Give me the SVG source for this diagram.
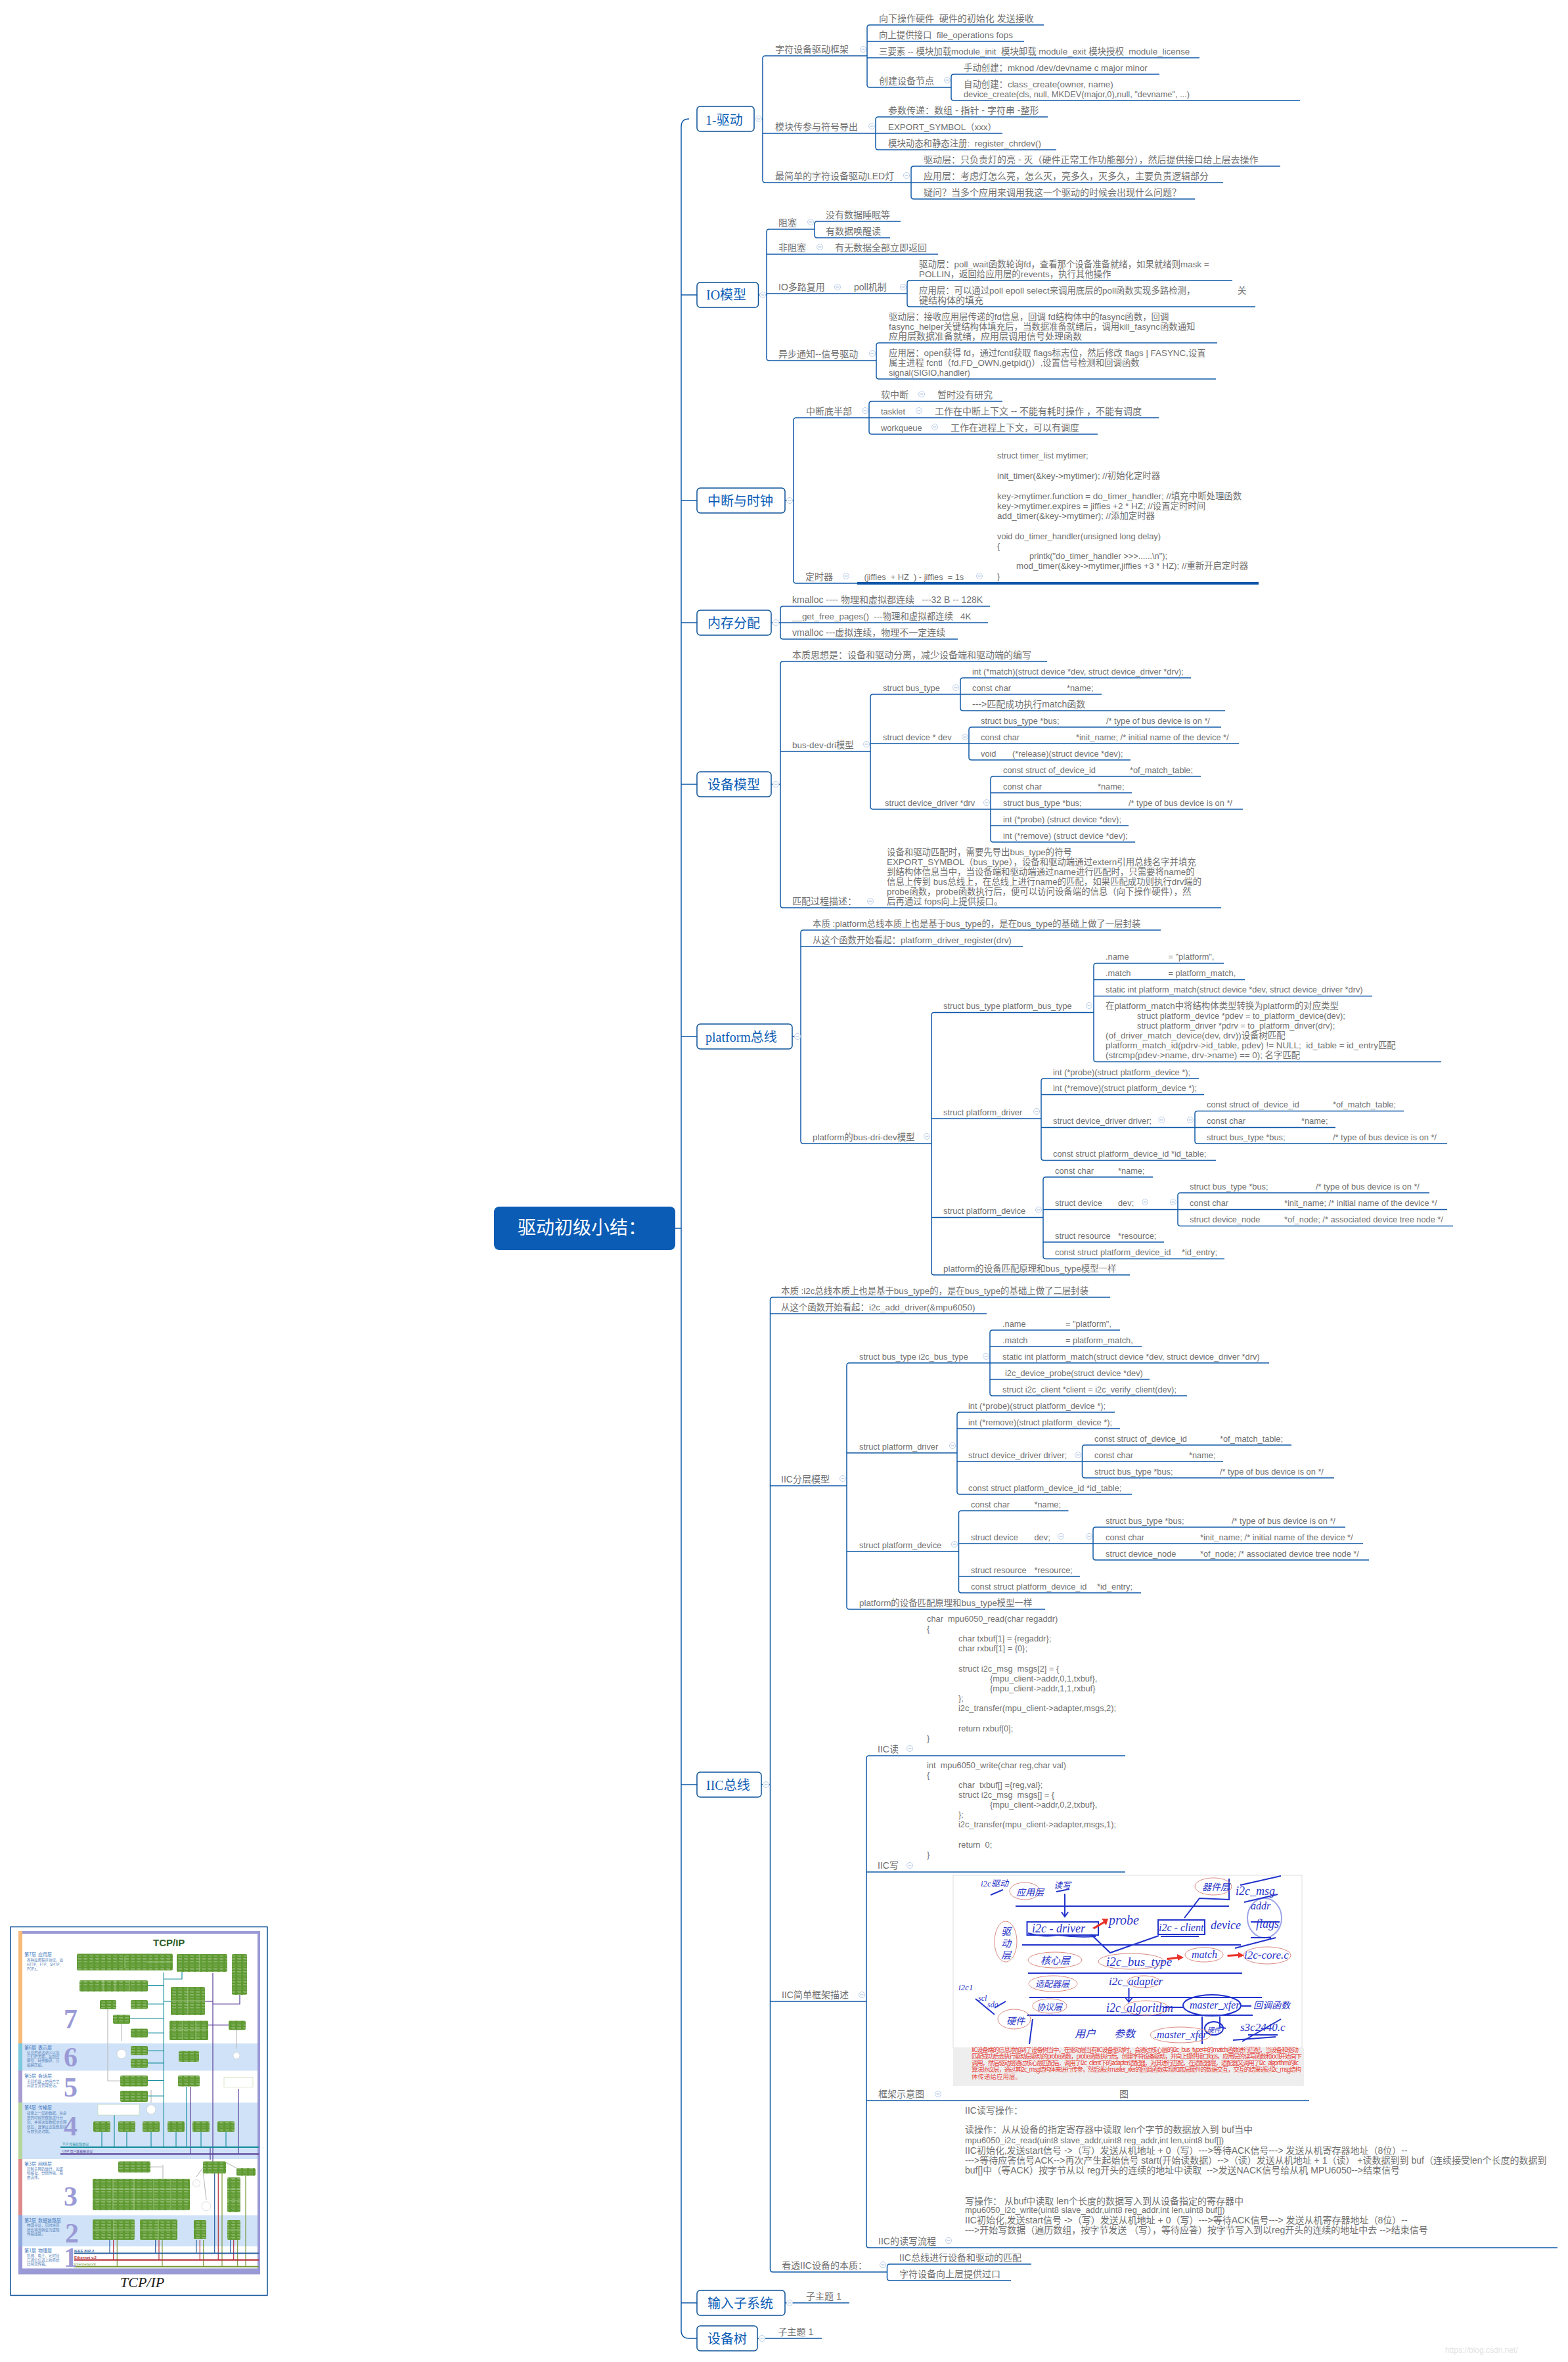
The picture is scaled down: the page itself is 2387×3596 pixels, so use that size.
<svg xmlns="http://www.w3.org/2000/svg" width="2387" height="3596" viewBox="0 0 2387 3596">
<style>
text{white-space:pre}
.t,.e,.m{font:14px "Liberation Sans","Noto Sans CJK SC",sans-serif;fill:#707070}
.e{font-size:12.8px}
.m{font-size:13.4px}
.b{font:20px "Liberation Serif","Noto Sans CJK SC",serif;fill:#0b5cb5}
.box{fill:#fff;stroke:#0b5299;stroke-width:1.5}
.l{fill:none;stroke:#0f5aa8;stroke-width:1.5}
.c circle{fill:#fff;stroke:#b9cde8;stroke-width:1}
.c path{stroke:#9db6da;stroke-width:1;fill:none}
.hw{font:italic 18px "Liberation Serif","Noto Sans CJK SC",serif;fill:#2a35c8}
.pen{fill:none;stroke:#2233cc;stroke-width:2}
.oval{fill:none;stroke:#d98a80;stroke-width:1}
.red{font:9.5px "Noto Sans CJK SC","Liberation Sans",sans-serif;fill:#e8443c}
.lay{font:7px "Noto Sans CJK SC",sans-serif;fill:#4a7cc0}
.sm{font:5.5px "Noto Sans CJK SC",sans-serif;fill:#5a86c0}
.num{font:bold 42px "Liberation Serif",serif;fill:#9a9ad6}
.thin{fill:none;stroke-width:1.2}
</style>
<defs>
<g id="m" class="c"><circle r="4.5"/><path d="M-2.5 0H2.5"/></g>
<pattern id="gt" width="9" height="5" patternUnits="userSpaceOnUse"><rect width="9" height="5" fill="#5f9a32"/><rect x="1" y="1" width="6" height="1.2" fill="#fff" fill-opacity=".28"/><rect x="2" y="3" width="5" height="1" fill="#fff" fill-opacity=".2"/></pattern>
</defs>
<rect width="2387" height="3596" fill="#fff"/>

<g id="connectors">
<path class="l" d="M1028 1870H1037M1049 181Q1037 181 1037 193V3548Q1037 3560 1049 3560H1061M1037 449H1061M1037 762H1061M1037 948H1061M1037 1194H1061M1037 1578H1061M1037 2717H1061M1037 3506H1061"/>
<path class="l" d="M1155 181H1161M1165 85Q1161 85 1161 89V274Q1161 278 1165 278H1387M1165 85H1320M1161 203H1333M1324 38Q1320 38 1320 42V129Q1320 133 1324 133H1448M1324 38H1589M1320 63H1559M1320 88H1826M1452 113Q1448 113 1448 117V149Q1448 153 1452 153H1979M1452 113H1765M1337 178Q1333 178 1333 182V224Q1333 228 1337 228H1608M1337 178H1595M1333 203H1526M1391 253Q1387 253 1387 257V299Q1387 303 1391 303H1819M1391 253H1949M1387 278H1862"/>
<path class="l" d="M1155 449H1167M1171 349Q1167 349 1167 353V545Q1167 549 1171 549H1334M1171 349H1240M1167 387H1428M1167 447H1381M1244 337Q1240 337 1240 341V358Q1240 362 1244 362H1355M1244 337H1371M1385 427Q1381 427 1381 431V463Q1381 467 1385 467H1911M1385 427H1876M1338 522Q1334 522 1334 526V573Q1334 577 1338 577H1851M1338 522H1853"/>
<path class="l" d="M1195 762H1208M1212 636Q1208 636 1208 640V884Q1208 888 1212 888H1305M1212 636H1323M1327 611Q1323 611 1323 615V657Q1323 661 1327 661H1671M1327 611H1526M1323 636H1764"/>
<path d="M1305 888H1916" fill="none" stroke="#0b55a8" stroke-width="4"/>
<path class="l" d="M1174 948H1188M1192 923Q1188 923 1188 927V969Q1188 973 1192 973H1458M1192 923H1507M1188 948H1504"/>
<path class="l" d="M1174 1194H1188M1192 1007Q1188 1007 1188 1011V1378Q1188 1382 1192 1382H1859M1192 1007H1594M1188 1144H1325M1329 1057Q1325 1057 1325 1061V1228Q1325 1232 1329 1232H1508M1329 1057H1462M1325 1132H1475M1466 1032Q1462 1032 1462 1036V1078Q1462 1082 1466 1082H1865M1466 1032H1813M1462 1057H1677M1479 1107Q1475 1107 1475 1111V1153Q1475 1157 1479 1157H1721M1479 1107H1859M1475 1132H1886M1512 1182Q1508 1182 1508 1186V1278Q1508 1282 1512 1282H1728M1512 1182H1828M1508 1207H1723M1508 1232H1892M1508 1257H1718"/>
<path class="l" d="M1206 1578H1219M1223 1416Q1219 1416 1219 1420V1737Q1219 1741 1223 1741H1418M1223 1416H1767M1219 1441H1557M1422 1541.5Q1418 1541.5 1418 1545.5V1937Q1418 1941 1422 1941H1720M1422 1541.5H1665M1418 1703H1585M1418 1853.5H1588M1669 1466.5Q1665 1466.5 1665 1470.5V1612.5Q1665 1616.5 1669 1616.5H2194M1669 1466.5H1863M1665 1491.5H1895M1665 1516.5H2089M1589 1642Q1585 1642 1585 1646V1762.5Q1585 1766.5 1589 1766.5H1851M1589 1642H1825M1585 1666.5H1833M1585 1716.5H1819M1823 1691.5Q1819 1691.5 1819 1695.5V1737Q1819 1741 1823 1741H2203M1823 1691.5H2137M1819 1716.5H2033M1592 1792Q1588 1792 1588 1796V1912.5Q1588 1916.5 1592 1916.5H1864M1592 1792H1755M1588 1841.5H1793M1588 1891H1772M1797 1816Q1793 1816 1793 1820V1862.5Q1793 1866.5 1797 1866.5H2212M1797 1816H2176M1793 1841.5H2203"/>
<path class="l" d="M1159 2717H1172.5M1176.5 1975Q1172.5 1975 1172.5 1979V3455Q1172.5 3459 1176.5 3459H1350.5M1176.5 1975H1690M1172.5 2000H1502M1172.5 2262H1289M1172.5 3047H1319M1293 2075Q1289 2075 1289 2079V2446Q1289 2450 1293 2450H1591M1293 2075H1507M1289 2212H1457M1289 2362H1459.5M1511 2025Q1507 2025 1507 2029V2121Q1507 2125 1511 2125H1807M1511 2025H1705M1507 2050H1738M1507 2075H1932M1507 2100H1750M1461 2150Q1457 2150 1457 2154V2271Q1457 2275 1461 2275H1723M1461 2150H1697M1457 2175H1705M1457 2225H1647.5M1651.5 2200Q1647.5 2200 1647.5 2204V2246Q1647.5 2250 1651.5 2250H2031M1651.5 2200H1966M1647.5 2225H1862M1463.5 2300Q1459.5 2300 1459.5 2304V2421Q1459.5 2425 1463.5 2425H1737M1463.5 2300H1626.5M1459.5 2350H1664M1459.5 2400H1644M1668 2325Q1664 2325 1664 2329V2371Q1664 2375 1668 2375H2084M1668 2325H2048M1664 2350H2075M1323 2673Q1319 2673 1319 2677V3418Q1319 3422 1323 3422H2371M1323 2673H1713M1319 2850H1713M1319 3198H1993M1354.5 3447Q1350.5 3447 1350.5 3451V3468Q1350.5 3472 1354.5 3472H1539M1354.5 3447H1570"/>
<path class="l" d="M1195 3506H1293M1153 3560H1251"/>
</g>

<g id="root"><rect x="752" y="1837" width="276" height="66" rx="8" fill="#0b5cb5"/><text x="788" y="1879" style="font:28px 'Noto Sans CJK SC',sans-serif;fill:#fff">驱动初级小结：</text></g>

<g id="n-drive"><rect class="box" x="1061" y="162" width="87" height="38" rx="5"/><text class="b" x="1074" y="190">1-驱动</text><use href="#m" x="1155" y="181"/></g>
<g id="n-drive-children">
<text class="t" x="1180" y="80">字符设备驱动框架</text><use href="#m" x="1314" y="75"/>
<text class="t" x="1338" y="33">向下操作硬件  硬件的初始化 发送接收</text>
<text class="m" x="1338" y="58">向上提供接口  file_operations fops</text>
<text class="m" x="1338" y="83">三要素 -- 模块加载module_init  模块卸载 module_exit 模块授权  module_license</text>
<text class="t" x="1338" y="128">创建设备节点</text><use href="#m" x="1442" y="122"/>
<text class="m" x="1467" y="108">手动创建：mknod /dev/devname c major minor</text>
<text class="m" x="1467" y="133">自动创建：class_create(owner, name)</text>
<text class="e" x="1467" y="148">device_create(cls, null, MKDEV(major,0),null, "devname", ...)</text>
<text class="t" x="1180" y="198">模块传参与符号导出</text><use href="#m" x="1327" y="192"/>
<text class="t" x="1352" y="173">参数传递：数组 - 指针 - 字符串 -整形</text>
<text class="m" x="1352" y="198">EXPORT_SYMBOL（xxx）</text>
<text class="m" x="1352" y="223">模块动态和静态注册:  register_chrdev()</text>
<text class="t" x="1180" y="273">最简单的字符设备驱动LED灯</text><use href="#m" x="1380" y="267"/>
<text class="t" x="1406" y="248">驱动层：只负责灯的亮 - 灭（硬件正常工作功能部分），然后提供接口给上层去操作</text>
<text class="t" x="1406" y="273">应用层：考虑灯怎么亮，怎么灭，亮多久，灭多久，主要负责逻辑部分</text>
<text class="t" x="1406" y="298">疑问？当多个应用来调用我这一个驱动的时候会出现什么问题？</text>
</g>

<g id="n-io"><rect class="box" x="1061" y="430" width="93.5" height="38" rx="5"/><text class="b" x="1075" y="456">IO模型</text><use href="#m" x="1161" y="449"/></g>
<g id="n-io-children">
<text class="t" x="1185" y="344">阻塞</text><use href="#m" x="1234" y="338"/>
<text class="t" x="1257" y="332">没有数据睡眠等</text>
<text class="t" x="1257" y="357">有数据唤醒读</text>
<text class="t" x="1185" y="382">非阻塞</text><use href="#m" x="1248" y="376"/><text class="t" x="1271" y="382">有无数据全部立即返回</text>
<text class="t" x="1185" y="442">IO多路复用</text><use href="#m" x="1275" y="437"/><text class="t" x="1300" y="442">poll机制</text><use href="#m" x="1375" y="437"/>
<text class="m" x="1399" y="407">驱动层：poll_wait函数轮询fd，查看那个设备准备就绪，如果就绪则mask =</text>
<text class="m" x="1399" y="422">POLLIN，返回给应用层的revents，执行其他操作</text>
<text class="m" x="1399" y="447">应用层：可以通过poll epoll select来调用底层的poll函数实现多路检测，<tspan x="1884">关</tspan></text>
<text class="t" x="1399" y="462">键结构体的填充</text>
<text class="t" x="1185" y="544">异步通知--信号驱动</text><use href="#m" x="1328" y="538"/>
<text class="m" x="1353" y="487">驱动层：接收应用层传递的fd信息，回调 fd结构体中的fasync函数，回调</text>
<text class="m" x="1353" y="502">fasync_helper关键结构体填充后，当数据准备就绪后，调用kill_fasync函数通知</text>
<text class="t" x="1353" y="517">应用层数据准备就绪，应用层调用信号处理函数</text>
<text class="m" x="1353" y="542">应用层：open获得 fd，通过fcntl获取 flags标志位，然后修改 flags | FASYNC,设置</text>
<text class="m" x="1353" y="557">属主进程 fcntl（fd,FD_OWN,getpid()）,设置信号检测和回调函数</text>
<text class="e" x="1353" y="572">signal(SIGIO,handler)</text>
</g>

<g id="n-irq"><rect class="box" x="1061" y="743" width="134" height="38" rx="5"/><text class="b" x="1077" y="770">中断与时钟</text><use href="#m" x="1202" y="762"/></g>
<g id="n-irq-children">
<text class="t" x="1227" y="631">中断底半部</text><use href="#m" x="1317" y="625"/>
<text class="t" x="1341" y="606">软中断</text><use href="#m" x="1403" y="600"/><text class="t" x="1427" y="606">暂时没有研究</text>
<text class="e" x="1341" y="631">tasklet</text><use href="#m" x="1399" y="625"/><text class="t" x="1423" y="631">工作在中断上下文 -- 不能有耗时操作 ，不能有调度</text>
<text class="e" x="1341" y="656">workqueue</text><use href="#m" x="1423" y="650"/><text class="t" x="1447" y="656">工作在进程上下文，可以有调度</text>
<text class="t" x="1226" y="883">定时器</text><use href="#m" x="1288" y="877"/>
<text class="e" x="1315.5" y="883">(jiffies  + HZ  ) - jiffies  = 1s</text><use href="#m" x="1491" y="877"/>
<text class="e" x="1518" y="698">struct timer_list mytimer;</text>
<text class="m" x="1518" y="729">init_timer(&amp;key-&gt;mytimer); //初始化定时器</text>
<text class="m" x="1518" y="760">key-&gt;mytimer.function = do_timer_handler; //填充中断处理函数</text>
<text class="m" x="1518" y="775">key-&gt;mytimer.expires = jiffies +2 * HZ; //设置定时时间</text>
<text class="m" x="1518" y="790">add_timer(&amp;key-&gt;mytimer); //添加定时器</text>
<text class="e" x="1518" y="821">void do_timer_handler(unsigned long delay)</text>
<text class="e" x="1518" y="836">{</text>
<text class="e" x="1567" y="851">printk("do_timer_handler &gt;&gt;&gt;......\n");</text>
<text class="m" x="1547" y="866">mod_timer(&amp;key-&gt;mytimer,jiffies +3 * HZ); //重新开启定时器</text>
<text class="e" x="1518" y="882">}</text>
</g>

<g id="n-mem"><rect class="box" x="1061" y="929" width="113" height="38" rx="5"/><text class="b" x="1077" y="956">内存分配</text><use href="#m" x="1181" y="948"/></g>
<g id="n-mem-children">
<text class="t" x="1206" y="918">kmalloc ---- 物理和虚拟都连续   ---32 B -- 128K</text>
<text class="m" x="1206" y="943">__get_free_pages()  ---物理和虚拟都连续   4K</text>
<text class="t" x="1206" y="968">vmalloc ---虚拟连续，物理不一定连续</text>
</g>

<g id="n-model"><rect class="box" x="1061" y="1175" width="113" height="38" rx="5"/><text class="b" x="1077" y="1202">设备模型</text><use href="#m" x="1181" y="1194"/></g>
<g id="n-model-children">
<text class="t" x="1206" y="1002">本质思想是：设备和驱动分离，减少设备端和驱动端的编写</text>
<text class="m" x="1206" y="1139">bus-dev-dri模型</text><use href="#m" x="1319" y="1133"/>
<text class="e" x="1344" y="1052">struct bus_type</text><use href="#m" x="1455" y="1047"/>
<text class="e" x="1480" y="1027">int (*match)(struct device *dev, struct device_driver *drv);</text>
<text class="e" x="1480" y="1052">const char<tspan x="1624">*name;</tspan></text>
<text class="t" x="1480" y="1077">---&gt;匹配成功执行match函数</text>
<text class="e" x="1344" y="1127">struct device * dev</text><use href="#m" x="1469" y="1122"/>
<text class="e" x="1493" y="1102">struct bus_type *bus;<tspan x="1684">/* type of bus device is on */</tspan></text>
<text class="e" x="1493" y="1127">const char<tspan x="1638">*init_name; /* initial name of the device */</tspan></text>
<text class="e" x="1493" y="1152">void<tspan x="1541">(*release)(struct device *dev);</tspan></text>
<text class="e" x="1347" y="1227">struct device_driver *drv</text><use href="#m" x="1502" y="1222"/>
<text class="e" x="1527" y="1177">const struct of_device_id<tspan x="1720">*of_match_table;</tspan></text>
<text class="e" x="1527" y="1202">const char<tspan x="1671">*name;</tspan></text>
<text class="e" x="1527" y="1227">struct bus_type *bus;<tspan x="1718">/* type of bus device is on */</tspan></text>
<text class="e" x="1527" y="1252">int (*probe) (struct device *dev);</text>
<text class="e" x="1527" y="1277">int (*remove) (struct device *dev);</text>
<text class="t" x="1206" y="1377">匹配过程描述：</text><use href="#m" x="1325" y="1372"/>
<text class="m" x="1350" y="1302">设备和驱动匹配时，需要先导出bus_type的符号</text>
<text class="m" x="1350" y="1317">EXPORT_SYMBOL（bus_type），设备和驱动端通过extern引用总线名字并填充</text>
<text class="m" x="1350" y="1332">到结构体信息当中，当设备端和驱动端通过name进行匹配时，只需要将name的</text>
<text class="m" x="1350" y="1347">信息上传到 bus总线上，在总线上进行name的匹配，如果匹配成功则执行drv端的</text>
<text class="m" x="1350" y="1362">probe函数，probe函数执行后，便可以访问设备端的信息（向下操作硬件），然</text>
<text class="m" x="1350" y="1377">后再通过 fops向上提供接口。</text>
</g>

<g id="n-platform"><rect class="box" x="1061" y="1559" width="145" height="38" rx="5"/><text class="b" x="1074" y="1586">platform总线</text><use href="#m" x="1214" y="1578"/></g>
<g id="n-platform-children">
<text class="m" x="1237" y="1411">本质 :platform总线本质上也是基于bus_type的，是在bus_type的基础上做了一层封装</text>
<text class="m" x="1237" y="1436">从这个函数开始看起：platform_driver_register(drv)</text>
<text class="m" x="1237" y="1736">platform的bus-dri-dev模型</text><use href="#m" x="1411" y="1730"/>
<text class="e" x="1436" y="1536">struct bus_type platform_bus_type</text><use href="#m" x="1658" y="1531"/>
<text class="e" x="1683" y="1461">.name<tspan x="1778.5">= "platform",</tspan></text>
<text class="e" x="1683" y="1486">.match<tspan x="1778.5">= platform_match,</tspan></text>
<text class="e" x="1683" y="1511">static int platform_match(struct device *dev, struct device_driver *drv)</text>
<text class="m" x="1683" y="1536">在platform_match中将结构体类型转换为platform的对应类型</text>
<text class="e" x="1731" y="1551">struct platform_device *pdev = to_platform_device(dev);</text>
<text class="e" x="1731" y="1566">struct platform_driver *pdrv = to_platform_driver(drv);</text>
<text class="m" x="1683" y="1581">(of_driver_match_device(dev, drv))设备树匹配</text>
<text class="m" x="1683" y="1596">platform_match_id(pdrv-&gt;id_table, pdev) != NULL;  id_table = id_entry匹配</text>
<text class="m" x="1683" y="1611">(strcmp(pdev-&gt;name, drv-&gt;name) == 0); 名字匹配</text>
<text class="e" x="1436" y="1698">struct platform_driver</text><use href="#m" x="1578" y="1692"/>
<text class="e" x="1603" y="1637">int (*probe)(struct platform_device *);</text>
<text class="e" x="1603" y="1661">int (*remove)(struct platform_device *);</text>
<text class="e" x="1603" y="1711">struct device_driver driver;</text><use href="#m" x="1768.5" y="1705"/><use href="#m" x="1812" y="1705"/>
<text class="e" x="1837" y="1686">const struct of_device_id<tspan x="2029">*of_match_table;</tspan></text>
<text class="e" x="1837" y="1711">const char<tspan x="1981">*name;</tspan></text>
<text class="e" x="1837" y="1736">struct bus_type *bus;<tspan x="2029">/* type of bus device is on */</tspan></text>
<text class="e" x="1603" y="1761">const struct platform_device_id *id_table;</text>
<text class="e" x="1436" y="1848">struct platform_device</text><use href="#m" x="1581" y="1842"/>
<text class="e" x="1606" y="1787">const char<tspan x="1702">*name;</tspan></text>
<text class="e" x="1606" y="1836">struct device<tspan x="1702">dev;</tspan></text><use href="#m" x="1743" y="1830"/><use href="#m" x="1786" y="1830"/>
<text class="e" x="1811" y="1811">struct bus_type *bus;<tspan x="2003">/* type of bus device is on */</tspan></text>
<text class="e" x="1811" y="1836">const char<tspan x="1955">*init_name; /* initial name of the device */</tspan></text>
<text class="e" x="1811" y="1861">struct device_node<tspan x="1955">*of_node; /* associated device tree node */</tspan></text>
<text class="e" x="1606" y="1886">struct resource<tspan x="1702">*resource;</tspan></text>
<text class="e" x="1606" y="1911">const struct platform_device_id<tspan x="1799">*id_entry;</tspan></text>
<text class="m" x="1436" y="1936">platform的设备匹配原理和bus_type模型一样</text>
</g>

<g id="n-iic"><rect class="box" x="1061" y="2698" width="98" height="38" rx="5"/><text class="b" x="1075" y="2725">IIC总线</text><use href="#m" x="1166" y="2717"/></g>
<g id="n-iic-children">
<text class="m" x="1189" y="1970">本质 :i2c总线本质上也是基于bus_type的，是在bus_type的基础上做了二层封装</text>
<text class="m" x="1189" y="1995">从这个函数开始看起：i2c_add_driver(&amp;mpu6050)</text>
<text class="t" x="1189" y="2257">IIC分层模型</text><use href="#m" x="1283" y="2251"/>
<text class="e" x="1308" y="2070">struct bus_type i2c_bus_type</text><use href="#m" x="1501" y="2065"/>
<text class="e" x="1526" y="2020">.name<tspan x="1622">= "platform",</tspan></text>
<text class="e" x="1526" y="2045">.match<tspan x="1622">= platform_match,</tspan></text>
<text class="e" x="1526" y="2070">static int platform_match(struct device *dev, struct device_driver *drv)</text>
<text class="e" x="1530" y="2095">i2c_device_probe(struct device *dev)</text>
<text class="e" x="1526" y="2120">struct i2c_client *client = i2c_verify_client(dev);</text>
<text class="e" x="1308" y="2207">struct platform_driver</text><use href="#m" x="1450" y="2201"/>
<text class="e" x="1474" y="2145">int (*probe)(struct platform_device *);</text>
<text class="e" x="1474" y="2170">int (*remove)(struct platform_device *);</text>
<text class="e" x="1474" y="2220">struct device_driver driver;</text><use href="#m" x="1641" y="2215"/>
<text class="e" x="1666" y="2195">const struct of_device_id<tspan x="1857">*of_match_table;</tspan></text>
<text class="e" x="1666" y="2220">const char<tspan x="1810">*name;</tspan></text>
<text class="e" x="1666" y="2245">struct bus_type *bus;<tspan x="1857">/* type of bus device is on */</tspan></text>
<text class="e" x="1474" y="2270">const struct platform_device_id *id_table;</text>
<text class="e" x="1308" y="2357">struct platform_device</text><use href="#m" x="1453" y="2351"/>
<text class="e" x="1478" y="2295">const char<tspan x="1574.5">*name;</tspan></text>
<text class="e" x="1478" y="2345">struct device<tspan x="1574.5">dev;</tspan></text><use href="#m" x="1615" y="2339"/><use href="#m" x="1658" y="2339"/>
<text class="e" x="1683" y="2320">struct bus_type *bus;<tspan x="1875">/* type of bus device is on */</tspan></text>
<text class="e" x="1683" y="2345">const char<tspan x="1827">*init_name; /* initial name of the device */</tspan></text>
<text class="e" x="1683" y="2370">struct device_node<tspan x="1827">*of_node; /* associated device tree node */</tspan></text>
<text class="e" x="1478" y="2395">struct resource<tspan x="1574.5">*resource;</tspan></text>
<text class="e" x="1478" y="2420">const struct platform_device_id<tspan x="1670">*id_entry;</tspan></text>
<text class="m" x="1308" y="2445">platform的设备匹配原理和bus_type模型一样</text>

<text class="t" x="1190" y="3042">IIC简单框架描述</text><use href="#m" x="1312" y="3037"/>
<text class="t" x="1336" y="2668">IIC读</text><use href="#m" x="1385" y="2662"/>
<text class="e" x="1411" y="2469">char  mpu6050_read(char regaddr)</text>
<text class="e" x="1411" y="2484">{</text>
<text class="e" x="1459" y="2499">char txbuf[1] = {regaddr};</text>
<text class="e" x="1459" y="2514">char rxbuf[1] = {0};</text>
<text class="e" x="1459" y="2545">struct i2c_msg  msgs[2] = {</text>
<text class="e" x="1507" y="2560">{mpu_client-&gt;addr,0,1,txbuf},</text>
<text class="e" x="1507" y="2575">{mpu_client-&gt;addr,1,1,rxbuf}</text>
<text class="e" x="1459" y="2590">};</text>
<text class="e" x="1459" y="2605">i2c_transfer(mpu_client-&gt;adapter,msgs,2);</text>
<text class="e" x="1459" y="2636">return rxbuf[0];</text>
<text class="e" x="1411" y="2651">}</text>
<text class="t" x="1336" y="2845">IIC写</text><use href="#m" x="1385" y="2840"/>
<text class="e" x="1411" y="2692">int  mpu6050_write(char reg,char val)</text>
<text class="e" x="1411" y="2707">{</text>
<text class="e" x="1459" y="2722">char  txbuf[] ={reg,val};</text>
<text class="e" x="1459" y="2737">struct i2c_msg  msgs[] = {</text>
<text class="e" x="1507" y="2752">{mpu_client-&gt;addr,0,2,txbuf},</text>
<text class="e" x="1459" y="2767">};</text>
<text class="e" x="1459" y="2782">i2c_transfer(mpu_client-&gt;adapter,msgs,1);</text>
<text class="e" x="1459" y="2813">return  0;</text>
<text class="e" x="1411" y="2828">}</text>
<text class="t" x="1337" y="3193">框架示意图</text><use href="#m" x="1428" y="3188"/>
<text class="t" x="1704" y="3193">图</text>
<text class="t" x="1337" y="3417">IIC的读写流程</text><use href="#m" x="1444" y="3411"/>
<text class="t" x="1469" y="3218">IIC读写操作：</text>
<text class="t" x="1469" y="3247">读操作：从从设备的指定寄存器中读取 len个字节的数据放入到 buf当中</text>
<text class="e" x="1469" y="3263">mpu6050_i2c_read(uint8 slave_addr,uint8 reg_addr,int len,uint8 buf[])</text>
<text class="t" x="1469" y="3279">IIC初始化,发送start信号 -&gt;（写）发送从机地址 + 0（写）---&gt;等待ACK信号---&gt; 发送从机寄存器地址（8位）--</text>
<text class="t" x="1469" y="3294">---&gt;等待应答信号ACK--&gt;再次产生起始信号 start(开始读数据）--&gt;（读）发送从机地址 + 1（读） +读数据到到 buf（连续接受len个长度的数据到</text>
<text class="t" x="1469" y="3309">buf[]中（等ACK）按字节从以 reg开头的连续的地址中读取  --&gt;发送NACK信号给从机 MPU6050--&gt;结束信号</text>
<text class="t" x="1469" y="3356">写操作： 从buf中读取 len个长度的数据写入到从设备指定的寄存器中</text>
<text class="e" x="1469" y="3369">mpu6050_i2c_write(uint8 slave_addr,uint8 reg_addr,int len,uint8 buf[])</text>
<text class="t" x="1469" y="3385">IIC初始化,发送start信号 -&gt;（写）发送从机地址 + 0（写）---&gt;等待ACK信号---&gt; 发送从机寄存器地址（8位）--</text>
<text class="t" x="1469" y="3400">---&gt;开始写数据（遍历数组，按字节发送 （写），等待应答）按字节写入到以reg开头的连续的地址中去 --&gt;结束信号</text>
<text class="t" x="1190" y="3454">看透IIC设备的本质：</text><use href="#m" x="1344" y="3448"/>
<text class="t" x="1369" y="3442">IIC总线进行设备和驱动的匹配</text>
<text class="t" x="1369" y="3467">字符设备向上层提供过口</text>
</g>

<g id="n-input"><rect class="box" x="1061" y="3487" width="134" height="38" rx="5"/><text class="b" x="1077" y="3514">输入子系统</text><use href="#m" x="1202" y="3506"/><text class="t" x="1227" y="3501">子主题 1</text></g>
<g id="n-dts"><rect class="box" x="1061" y="3541" width="92" height="38" rx="5"/><text class="b" x="1077" y="3568">设备树</text><use href="#m" x="1160" y="3560"/><text class="t" x="1184.5" y="3555">子主题 1</text></g>

<g id="iic-sketch">
<rect x="1451" y="2855" width="531" height="263" fill="#fff" stroke="#dddddd"/>
<rect x="1451" y="3118" width="534" height="58" fill="#eeeeee"/>
<path class="pen" d="M1546 2902H1871M1556 2961H1889M1565 3004H1891M1567 3041H1921M1563.5 3068H1907"/>
<path class="pen" d="M1563.5 2926H1672V2946H1563.5ZM1763 2923H1834V2945H1763Z"/>
<path class="pen" d="M1621 2883V2918M1616 2911L1621 2918L1626 2911M1661 2945L1690 2973L1764 2947M1803 2920L1826 2890L1871 2892V2860M1718.5 3027V3048M1713 3041L1718.5 3048L1724 3041M1771 3056H1801M1889 3054H1905M1857 3070V3086L1866 3088M1572 3074L1567 3112M1830 3070V3112M1485 3043L1514 3067M1514 3057L1531 3047M1508 2885L1527 2877M1608 2880L1628 2876M1877 3106L1942 3101"/>
<path class="pen" d="M1565 2943Q1590 2950 1610 2946Q1640 2950 1668 2948M1767 2948H1825" stroke-width="3"/>
<ellipse cx="1845" cy="3053" rx="44" ry="16" class="pen"/>
<ellipse cx="1848" cy="3088" rx="14" ry="10" class="pen" stroke-width="1.3"/>
<ellipse cx="1925" cy="2920" rx="26" ry="30" class="pen" stroke-opacity=".45"/>
<path class="pen" d="M1888 2870L1950 2856M1894 2896L1945 2884M1904 2926H1948M1904 2950H1935M1880 2966L1942 2950M1891 3108L1950 3074M1900 3098H1945"/>
<g class="oval">
<ellipse cx="1560" cy="2879" rx="23" ry="13"/><ellipse cx="1847" cy="2872" rx="28" ry="13"/><ellipse cx="1531" cy="2956" rx="17" ry="31"/><ellipse cx="1606" cy="2984" rx="41" ry="12"/><ellipse cx="1722" cy="2986" rx="50" ry="12"/><ellipse cx="1833" cy="2976" rx="29" ry="11"/><ellipse cx="1929" cy="2977" rx="36" ry="13"/><ellipse cx="1603" cy="3020" rx="37" ry="12"/><ellipse cx="1741" cy="3017" rx="25" ry="9"/><ellipse cx="1598" cy="3054" rx="26" ry="11"/><ellipse cx="1745" cy="3057" rx="34" ry="11"/><ellipse cx="1544" cy="3074" rx="25" ry="15"/><ellipse cx="1797" cy="3098" rx="46" ry="12"/>
</g>
<path d="M1663 2935L1680 2925L1677 2921L1687 2921L1684 2931L1681 2928L1666 2937ZM1776 2981L1792 2979V2975L1802 2980L1793 2985V2982L1777 2984ZM1868 2976L1885 2975V2972L1894 2977L1885 2981V2978L1869 2979Z" fill="#e8332a"/>
<text class="hw" x="1571" y="2942">i2c - driver</text>
<text class="hw" x="1688" y="2930" style="font-size:20px">probe</text>
<text class="hw" x="1764" y="2940" style="font-size:16px">i2c - client</text>
<text class="hw" x="1843" y="2937" style="font-size:18px">device</text>
<text class="hw" x="1881" y="2885" style="font-size:18px">i2c_msg</text>
<text class="hw" x="1904" y="2907" style="font-size:16px">addr</text>
<text class="hw" x="1912" y="2935" style="font-size:18px">flags</text>
<text class="hw" x="1684" y="2993" style="font-size:19px">i2c_bus_type</text>
<text class="hw" x="1814" y="2981" style="font-size:16px">match</text>
<text class="hw" x="1894" y="2982" style="font-size:17px">i2c-core.c</text>
<text class="hw" x="1688" y="3022" style="font-size:17px">i2c_adapter</text>
<text class="hw" x="1684" y="3063" style="font-size:18px">i2c_algorithm</text>
<text class="hw" x="1811" y="3058" style="font-size:16px">master_xfer</text>
<text class="hw" x="1757" y="3103" style="font-size:16px">.master_xfer</text>
<text class="hw" x="1888" y="3092" style="font-size:17px">s3c2440.c</text>
<text class="hw" x="1547" y="2886" style="font-size:14px">应用层</text>
<text class="hw" x="1830" y="2878" style="font-size:14px">器件层</text>
<text class="hw" x="1524" y="2946" style="font-size:15px">驱</text>
<text class="hw" x="1524" y="2964" style="font-size:15px">动</text>
<text class="hw" x="1524" y="2982" style="font-size:15px">层</text>
<text class="hw" x="1584" y="2990" style="font-size:15px">核心层</text>
<text class="hw" x="1576" y="3025" style="font-size:13px">适配器层</text>
<text class="hw" x="1578" y="3060" style="font-size:13px">协议层</text>
<text class="hw" x="1532" y="3082" style="font-size:14px">硬件</text>
<text class="hw" x="1493" y="2872" style="font-size:13px">i2c驱动</text>
<text class="hw" x="1604" y="2875" style="font-size:13px">读写</text>
<text class="hw" x="1459" y="3030" style="font-size:13px">i2c1</text>
<text class="hw" x="1489" y="3046" style="font-size:12px">scl</text>
<text class="hw" x="1503" y="3056" style="font-size:12px">sda</text>
<text class="hw" x="1636" y="3102" style="font-size:16px">用户</text>
<text class="hw" x="1696" y="3102" style="font-size:16px">参数</text>
<text class="hw" x="1908" y="3058" style="font-size:14px">回调函数</text>
<text class="hw" x="1838" y="3094" style="font-size:10px">硬件</text>
<text class="red" x="1479" y="3124" textLength="498">IIC设备端的信息添加到了设备树当中，在驱动层当有IIC设备驱动时，会通过核心层的i2c_bus_type中的match函数进行匹配，当设备和驱动</text>
<text class="red" x="1479" y="3134" textLength="503">匹配成功后会执行驱动层驱动的probe函数，probe函数执行后，创建字符设备驱动，并向上提供接口fops，应用层的读写函数和ioctl开始向下</text>
<text class="red" x="1479" y="3144" textLength="498">调用，然后驱动层通过核心层匹配后，调用了i2c_client下的adapter适配器，对其进行匹配，在适配器层，适配器又调用了i2c_algorthm的iic</text>
<text class="red" x="1479" y="3154" textLength="502">算法协议层，通过其i2c_msg结构体来进行传参，然后通过master_xfer的回调函数实现和底层硬件的数据交互，交互的结果通过i2c_msg结构</text>
<text class="red" x="1479" y="3165">体传递给应用层。</text>
</g>

<g id="tcpip-image">
<rect x="16" y="2933.5" width="391" height="561" fill="#fff" stroke="#0b5299" stroke-width="1.5"/>
<rect x="28" y="2940" width="368" height="522.5" fill="#9a9ad6"/>
<rect x="34" y="2944" width="358" height="509.5" fill="#fff"/>
<path d="M34 3111h358v41.5H34ZM34 3201h358v86H34ZM34 3372.6h358v47.4H34Z" fill="#cfe2f7"/>
<rect x="28" y="2940" width="6" height="171" fill="#f6b97a"/><rect x="28" y="3111" width="6" height="41.5" fill="#7cc8dc"/><rect x="28" y="3152.5" width="6" height="48.5" fill="#a79bd0"/><rect x="28" y="3201" width="6" height="86" fill="#b5d69a"/><rect x="28" y="3287" width="6" height="85.6" fill="#dd8a8a"/><rect x="28" y="3372.6" width="6" height="47.4" fill="#8fa8dc"/>
<path class="thin" stroke="#bdbdbd" d="M164 3059V3168H183M185 3107V3081M230 3201V3182M360 3119V3090M299 3314L309 3300M314 3349L309 3305M248 3330V3296M225 3299H247M344 3292L362 3302"/>
<path class="thin" stroke="#1a8f9f" stroke-width="1.6" d="M249.3 3268.8V3003M225 3022.7H249M225 3051H249M198 3073.5H249M225 3095H249M225 3122H249M225 3140.8H249M225 3167.5H249M225 3191H249M249 3046.8H260M249 3013H277V3002M155 3268.8V3246M174 3268.8V3220M193 3268.8V3246M230 3268.8V3246M268 3268.8V3246M284 3268.8V3177M306 3268.8V3246M344 3268.8V3246"/>
<path class="thin" stroke="#5b3f98" stroke-width="1.6" d="M324 3295V3004M312 3046.8H324M317 3083H348M324 3051H365V3037M290 3279.3V3177M363 3279.3V3180M320 3288V3268"/>
<path class="thin" stroke="#2a5f9e" stroke-width="1.6" d="M167 3430.5V3410M236.7 3430.5V3410M299 3430.5V3410M350.7 3430.5V3410M326.7 3430.5V3309"/>
<path class="thin" stroke="#b5323a" stroke-width="1.6" d="M172.7 3440.7V3410M242 3440.7V3410M304.3 3440.7V3410M355.7 3440.7V3410M332.3 3440.7V3309"/>
<path class="thin" stroke="#7a9a3a" stroke-width="1.6" d="M178.3 3450.8V3410M247 3450.8V3410M309.7 3450.8V3410M361.7 3450.8V3410M338 3450.8V3309M374 3450.8V3312"/>
<path d="M92 3268.8H394" stroke="#1a8f9f" stroke-width="2.2"/><path d="M92 3279.3H394" stroke="#5b3f98" stroke-width="2.2"/>
<path d="M113 3430.5H394" stroke="#2a5f9e" stroke-width="2.2"/><path d="M113 3440.7H394" stroke="#b5323a" stroke-width="2.2"/><path d="M113 3450.8H394" stroke="#7a9a3a" stroke-width="2.2"/>
<g fill="url(#gt)">
<rect x="117" y="2974.6" width="146" height="25.2" rx="2"/><rect x="269" y="2975" width="77" height="27" rx="2"/><rect x="353" y="2975" width="23" height="62" rx="2"/><rect x="121" y="3015" width="104" height="17" rx="2"/><rect x="152" y="3045" width="25" height="14" rx="2"/><rect x="199" y="3045" width="26" height="13.5" rx="2"/><rect x="260" y="3025" width="52" height="43" rx="2"/><rect x="172" y="3067.5" width="26" height="13.5" rx="2"/><rect x="258" y="3076.5" width="59" height="29.5" rx="2"/><rect x="348" y="3076.5" width="26" height="14" rx="2"/><rect x="199" y="3088.5" width="26" height="13.5" rx="2"/><rect x="199" y="3115" width="26" height="14" rx="2"/><rect x="199" y="3134.5" width="26" height="13.5" rx="2"/><rect x="272" y="3122.4" width="31" height="16.6" rx="2"/><rect x="183" y="3159.7" width="42" height="16.9" rx="2"/><rect x="183" y="3183" width="42" height="17" rx="2"/><rect x="271" y="3159.7" width="33" height="16.9" rx="2"/>
<rect x="142" y="3229.6" width="26" height="16.2" rx="2"/><rect x="180" y="3229.6" width="26" height="16.2" rx="2"/><rect x="217" y="3229.6" width="26" height="16.2" rx="2"/><rect x="255" y="3229.6" width="26" height="16.2" rx="2"/><rect x="293" y="3229.6" width="26" height="16.2" rx="2"/><rect x="331" y="3229.6" width="26" height="16.2" rx="2"/>
<rect x="180" y="3290.6" width="49" height="16.9" rx="2"/><rect x="309" y="3290.6" width="35" height="18.4" rx="2"/><rect x="360" y="3301" width="29" height="11.4" rx="2"/><rect x="141" y="3317" width="148" height="48" rx="2"/><rect x="346" y="3315" width="20" height="53" rx="2"/><rect x="141" y="3379" width="64" height="31" rx="2"/><rect x="213" y="3379" width="57" height="31" rx="2"/><rect x="295" y="3380" width="19" height="29" rx="2"/><rect x="346" y="3380" width="20" height="30" rx="2"/>
</g>
<path d="M190 2978V2997M223 2987H263M304 2975V3002M157 3015V3032M175 3015V3032M197 3015V3032M286 3025V3068M260 3046H312M278 3076.5V3106M298 3076.5V3106M258 3090H317M204 3317V3365M172 3317V3365M234 3317V3365M260 3317V3365M141 3333H289M141 3349H289M173 3379V3410M141 3395H205M241 3379V3410M213 3395H270M295 3394H314M346 3333H366M346 3350H366M346 3395H366" stroke="#cfe3b8" stroke-width=".6" fill="none"/>
<rect x="149" y="3204" width="63" height="16" fill="#fff" stroke="#c4d9a8" stroke-width=".6"/><rect x="341" y="3162.7" width="44" height="15" fill="#fff" stroke="#c4d9a8" stroke-width=".6"/>
<g fill="#fff" stroke="#c4c4c4" stroke-width=".6"><circle cx="185" cy="3127" r="7"/><circle cx="230" cy="3211.6" r="7"/><circle cx="360" cy="3129.5" r="5"/><circle cx="299" cy="3324" r="5.5"/><circle cx="314" cy="3358.7" r="7"/></g>
<text x="233" y="2963" style="font:bold 15px 'Liberation Sans',sans-serif;fill:#2f5e2a">TCP/IP</text>
<text class="lay" x="37" y="2978">第7层  应用层</text><text class="lay" x="37" y="3120">第6层  表示层</text><text class="lay" x="37" y="3163">第5层  会话层</text><text class="lay" x="37" y="3211">第4层  传输层</text><text class="lay" x="37" y="3297">第3层  网络层</text><text class="lay" x="37" y="3383">第2层  数据链路层</text><text class="lay" x="37" y="3429">第1层  物理层</text>
<text class="sm"><tspan x="41" y="2986">各种应用程序协议，如</tspan><tspan x="41" y="2993">HTTP、FTP、SMTP、</tspan><tspan x="41" y="3000">POP3。</tspan><tspan x="41" y="3127">信息的语法语义以及</tspan><tspan x="41" y="3133">它们的关联，如加密</tspan><tspan x="41" y="3139">解密、转换翻译、压</tspan><tspan x="41" y="3146">缩解压缩。</tspan><tspan x="41" y="3171">不同机器上的用户之</tspan><tspan x="41" y="3177">间建立及管理会话。</tspan><tspan x="41" y="3219">接受上一层的数据，在必</tspan><tspan x="41" y="3226">要的时候把数据进行分</tspan><tspan x="41" y="3233">割，并将这些数据交给网</tspan><tspan x="41" y="3240">络层，且保证这些数据段</tspan><tspan x="41" y="3247">有效到达对端。</tspan><tspan x="41" y="3304">控制子网的运行，如逻</tspan><tspan x="41" y="3310">辑编址、分组传输、路</tspan><tspan x="41" y="3317">由选择。</tspan><tspan x="41" y="3390">物理寻址，同时将原</tspan><tspan x="41" y="3397">始比特流转变为逻辑</tspan><tspan x="41" y="3403">传输线路。</tspan><tspan x="41" y="3436">机械、电子、定时接</tspan><tspan x="41" y="3443">口通信信道上的原始</tspan><tspan x="41" y="3449">比特流传输。</tspan></text>
<text class="num" x="97" y="3088">7</text><text class="num" x="97" y="3146">6</text><text class="num" x="97" y="3192">5</text><text class="num" x="97" y="3251">4</text><text class="num" x="97" y="3358">3</text><text class="num" x="99" y="3414">2</text><text class="num" x="97" y="3451">1</text>
<text x="95" y="3266" style="font:5px 'Noto Sans CJK SC',sans-serif;fill:#1a8f9f">TCP 传输控制协议</text>
<text x="95" y="3277" style="font:5px 'Noto Sans CJK SC',sans-serif;fill:#5b3f98">UDP 用户数据报协议</text>
<text x="113" y="3429" style="font:bold 6px 'Liberation Sans',sans-serif;fill:#2a5f9e">IEEE 802.2</text>
<text x="113" y="3439" style="font:bold 6px 'Liberation Sans',sans-serif;fill:#b5323a">Ethernet v.2</text>
<text x="113" y="3449" style="font:6px 'Liberation Sans',sans-serif;fill:#7a9a3a">Internetwork</text>
<text x="183" y="3482" style="font:italic 22px 'Liberation Serif',serif;fill:#222">TCP/IP</text>
</g>

<g id="watermark"><text x="2200" y="3582" style="font:12px 'Liberation Sans',sans-serif;fill:#e4e4e4">https://blog.csdn.net/</text></g>
</svg>
